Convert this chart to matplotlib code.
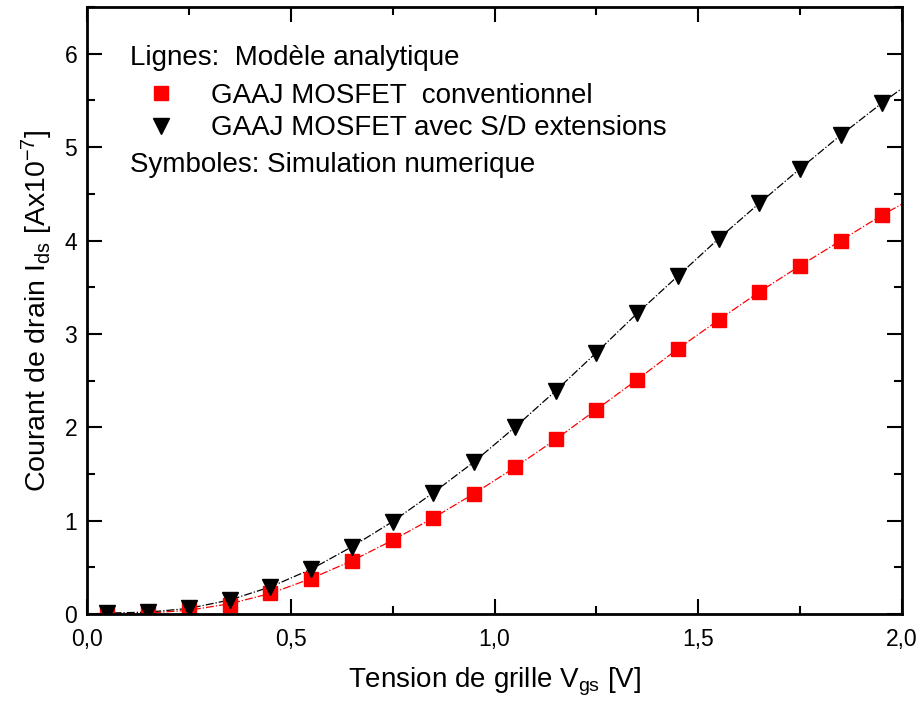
import numpy as np
import matplotlib.pyplot as plt
from matplotlib.lines import Line2D
from matplotlib.ticker import MultipleLocator, FuncFormatter

plt.rcParams['font.family'] = ['Liberation Sans', 'DejaVu Sans']
plt.rcParams['mathtext.fontset'] = 'custom'
plt.rcParams['mathtext.rm'] = 'Liberation Sans'
plt.rcParams['mathtext.default'] = 'regular'

# simulation points (symbols)
vgs = [0.05, 0.15, 0.25, 0.35, 0.45, 0.55, 0.65, 0.75, 0.85, 0.95,
       1.05, 1.15, 1.25, 1.35, 1.45, 1.55, 1.65, 1.75, 1.85, 1.95]
ids_conv = [0.00, 0.01, 0.04, 0.10, 0.22, 0.38, 0.57, 0.79, 1.03, 1.29,
            1.57, 1.87, 2.19, 2.51, 2.84, 3.15, 3.45, 3.73, 4.00, 4.27]
ids_ext = [0.01, 0.02, 0.06, 0.15, 0.29, 0.48, 0.72, 0.99, 1.30, 1.63,
           2.00, 2.39, 2.80, 3.22, 3.62, 4.02, 4.40, 4.77, 5.13, 5.47]

# analytic model (lines)
vgs_mod = [0.0, 0.05, 0.15, 0.25, 0.35, 0.45, 0.55, 0.65, 0.75, 0.85, 0.95,
           1.05, 1.15, 1.25, 1.35, 1.45, 1.55, 1.65, 1.75, 1.85, 1.95, 2.0]
mod_conv = [0.00, 0.00, 0.01, 0.04, 0.11, 0.22, 0.38, 0.57, 0.79, 1.03, 1.29,
            1.57, 1.87, 2.19, 2.51, 2.84, 3.15, 3.45, 3.73, 4.00, 4.27, 4.39]
mod_ext = [0.00, 0.01, 0.02, 0.06, 0.15, 0.29, 0.48, 0.72, 0.99, 1.30, 1.63,
           2.00, 2.39, 2.80, 3.22, 3.62, 4.02, 4.40, 4.77, 5.13, 5.47, 5.63]

fig = plt.figure(figsize=(9.2, 7.06), dpi=100)
ax = fig.add_axes([0.0946, 0.1303, 0.8859, 0.8597])

ax.plot(vgs_mod, mod_conv, color='red', lw=0.9, ls='-.')
ax.plot(vgs_mod, mod_ext, color='black', lw=0.9, ls='-.')
ax.plot(vgs, ids_conv, 's', color='red', ms=9.5, mec='red', ls='none')
ax.plot(vgs, ids_ext, 'v', color='black', ms=12, ls='none')

ax.set_xlim(0, 2.0)
ax.set_ylim(0, 6.5)
ax.xaxis.set_major_locator(MultipleLocator(0.5))
ax.xaxis.set_minor_locator(MultipleLocator(0.25))
ax.yaxis.set_major_locator(MultipleLocator(1))
ax.yaxis.set_minor_locator(MultipleLocator(0.5))
ax.xaxis.set_major_formatter(FuncFormatter(lambda v, p: f'{v:.1f}'.replace('.', ',')))
ax.yaxis.set_major_formatter(FuncFormatter(lambda v, p: f'{v:.0f}'))
ax.tick_params(which='both', direction='in', top=True, right=True, width=1.5,
               labelsize=16.5)
ax.tick_params(axis='x', pad=10)
ax.tick_params(axis='y', pad=7)
ax.tick_params(which='major', length=11)
ax.tick_params(which='minor', length=6)
for s in ax.spines.values():
    s.set_linewidth(2)

ax.set_xlabel('Tension de grille V$_{gs}$ [V]', fontsize=20, labelpad=11)
ax.set_ylabel('Courant de drain I$_{ds}$ [Ax10$^{-7}$]', fontsize=20.5, labelpad=7)

ax.text(0.0528, 0.916, 'Lignes:  Modèle analytique', transform=ax.transAxes,
        fontsize=20, va='center', ha='left')
ax.text(0.0528, 0.7396, 'Symboles: Simulation numerique', transform=ax.transAxes,
        fontsize=20, va='center', ha='left')
handles = [Line2D([], [], marker='s', color='red', ls='none', ms=9.5),
           Line2D([], [], marker='v', color='black', ls='none', ms=12)]
ax.legend(handles, ['GAAJ MOSFET  conventionnel', 'GAAJ MOSFET avec S/D extensions'],
          loc='center left', bbox_to_anchor=(0.0734, 0.827), borderaxespad=0,
          borderpad=0, frameon=False, fontsize=20, handlelength=1,
          handletextpad=1.3, labelspacing=0.23)

fig.savefig('out.png', dpi=100)
